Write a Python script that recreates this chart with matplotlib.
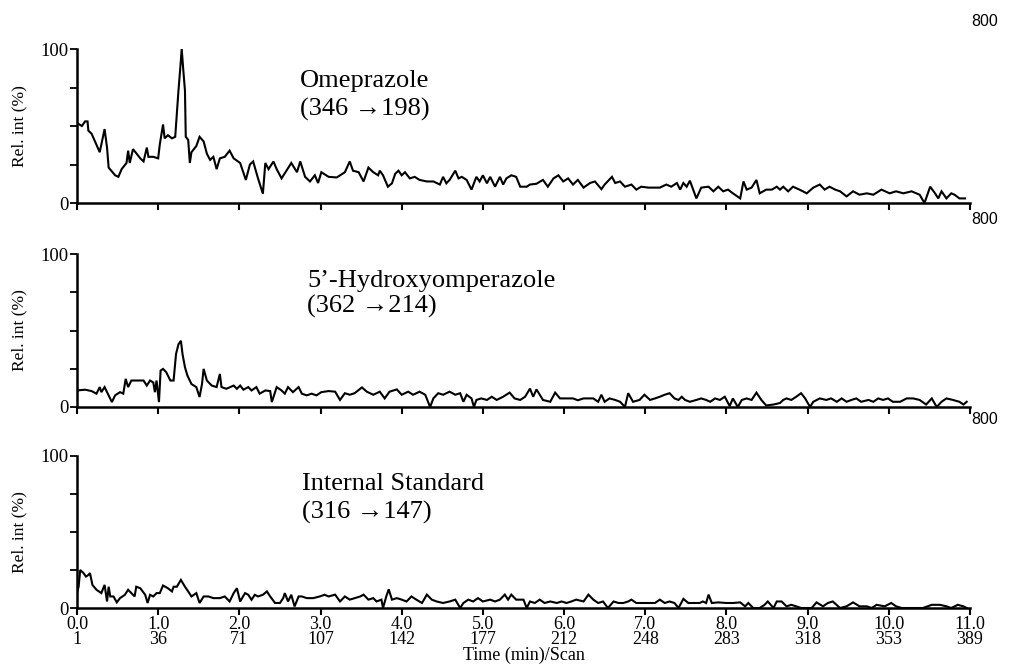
import matplotlib
matplotlib.use("Agg")
import matplotlib.pyplot as plt

serif = ["Liberation Serif", "DejaVu Serif"]

# Omeprazole trace (time in min, relative intensity in %)
ome_t = [0.00, 0.06, 0.10, 0.13, 0.14, 0.18, 0.28, 0.34, 0.37, 0.39, 0.47, 0.51, 0.55, 0.61, 0.63, 0.65,
         0.69, 0.78, 0.82, 0.86, 0.88, 0.94, 1.00, 1.02, 1.06, 1.08, 1.12, 1.17, 1.21, 1.25, 1.27, 1.29,
         1.31, 1.33, 1.34, 1.37, 1.39, 1.41, 1.47, 1.51, 1.56, 1.60, 1.64, 1.68, 1.72, 1.76, 1.82, 1.88,
         1.93, 2.01, 2.08, 2.13, 2.17, 2.23, 2.29, 2.32, 2.36, 2.42, 2.46, 2.52, 2.58, 2.64, 2.71, 2.75,
         2.81, 2.87, 2.93, 2.97, 3.01, 3.10,
         3.20, 3.30, 3.36, 3.40, 3.47, 3.53, 3.59, 3.65, 3.71, 3.73, 3.77, 3.83, 3.88, 3.92, 3.96, 4.00,
         4.04, 4.10, 4.16, 4.22, 4.31, 4.39, 4.47, 4.51, 4.55, 4.59, 4.66, 4.70, 4.74, 4.80, 4.86, 4.92,
         4.96, 5.00, 5.05, 5.09, 5.15, 5.21, 5.25, 5.29, 5.35, 5.41, 5.46, 5.54, 5.58, 5.66, 5.74, 5.80,
         5.87, 5.93, 5.99, 6.05, 6.11, 6.17, 6.24, 6.32, 6.38, 6.46, 6.50, 6.59, 6.63, 6.69, 6.75, 6.83,
         6.89, 6.95, 7.04, 7.12,
         7.18, 7.26, 7.32, 7.39, 7.43, 7.47, 7.51, 7.55, 7.59, 7.63, 7.69, 7.78, 7.84, 7.90, 7.96, 8.02,
         8.08, 8.17, 8.21, 8.25, 8.31, 8.37, 8.41, 8.49, 8.56, 8.62, 8.66, 8.70, 8.76, 8.82, 8.90, 8.99,
         9.07, 9.15, 9.21, 9.27, 9.34, 9.40, 9.48, 9.56, 9.64, 9.73, 9.81, 9.91, 10.01, 10.09, 10.18, 10.28,
         10.38, 10.44, 10.51, 10.57, 10.61, 10.65, 10.71, 10.77, 10.81, 10.87, 10.94]
ome_v = [52, 50, 53, 53, 47, 45, 33, 48, 36, 23, 18, 17, 22, 26, 34, 26,
         35, 29, 27, 36, 30, 30, 29, 38, 51, 42, 44, 42, 43, 73, 86, 100,
         86, 73, 43, 41, 26, 33, 37, 43, 40, 32, 28, 30, 22, 29, 30, 34,
         29, 26, 15, 25, 27, 16, 6, 26, 22, 27, 22, 16, 21, 26, 20, 27,
         17, 14, 18, 13, 20, 17,
         16.6, 20, 27, 21, 20, 14, 23, 20, 18, 21, 18, 10.6, 12.8, 19, 21, 18,
         20, 16, 17, 15, 14, 14, 12, 17, 12.8, 15, 21, 16, 17, 15, 8.7, 17,
         14, 18, 12.8, 17, 10.6, 17, 12, 16, 18, 17, 10.6, 10.6, 12, 12.5, 15, 10.6,
         16, 18, 14, 16, 12, 15, 10, 13, 14, 9, 12, 17, 13, 14, 10.6, 12,
         8.7, 10.6, 10, 10,
         10, 12, 10.6, 13, 8.7, 13, 10.6, 14.5, 8.7, 3, 10, 10.6, 7.6, 10.6, 7.6, 8.7,
         6.3, 3, 14, 8.7, 10, 15, 6.3, 8.7, 8.7, 10.6, 8.7, 10.6, 7.6, 10.6, 8.7, 6.3,
         10, 12, 8.7, 10.6, 8.7, 7.6, 4.3, 7.6, 5.4, 6.3, 5.4, 8.7, 6.3, 7.6, 6.3, 7.6,
         5.4, 0, 10.6, 6.3, 3, 7.6, 3, 6.3, 5.4, 3, 3]

# 5'-Hydroxyomeprazole trace
hyd_t = [0.00, 0.10, 0.18, 0.24, 0.28, 0.30, 0.34, 0.39, 0.43, 0.47, 0.53, 0.57, 0.60, 0.63, 0.67, 0.73,
         0.82, 0.86, 0.90, 0.94, 0.96, 0.98, 1.01, 1.03, 1.06, 1.10, 1.15, 1.19, 1.22, 1.25, 1.28, 1.30,
         1.33, 1.36, 1.41, 1.47, 1.51, 1.54, 1.56, 1.60, 1.66, 1.72, 1.76, 1.78, 1.84, 1.93, 1.97, 2.01,
         2.05, 2.11, 2.15, 2.21, 2.25, 2.32, 2.38, 2.40, 2.46, 2.52, 2.56, 2.60, 2.66, 2.73, 2.77, 2.83,
         2.89, 2.95, 3.01, 3.10,
         3.18, 3.24, 3.30, 3.36, 3.42, 3.51, 3.57, 3.65, 3.73, 3.79, 3.85, 3.94, 4.00, 4.08, 4.14, 4.22,
         4.29, 4.35, 4.39, 4.45, 4.51, 4.59, 4.66, 4.72, 4.76, 4.80, 4.86, 4.89, 4.92, 4.98, 5.05, 5.11,
         5.17, 5.25, 5.33, 5.39, 5.46, 5.52, 5.58, 5.62, 5.66, 5.74, 5.83, 5.89, 5.95, 6.03, 6.11, 6.17,
         6.24, 6.36, 6.42, 6.46, 6.50, 6.56, 6.63, 6.69, 6.75, 6.79, 6.85, 6.93, 6.99, 7.06, 7.12,
         7.18, 7.24, 7.30, 7.36, 7.41, 7.45, 7.49, 7.55, 7.63, 7.69, 7.75, 7.80, 7.86, 7.92, 7.98, 8.04,
         8.08, 8.14, 8.19, 8.25, 8.31, 8.37, 8.43, 8.49, 8.58, 8.66, 8.70, 8.74, 8.80, 8.86, 8.92, 8.97,
         9.03, 9.07, 9.15, 9.23, 9.29, 9.36, 9.42, 9.48, 9.54, 9.60, 9.66, 9.75, 9.81, 9.87, 9.93, 9.99,
         10.05, 10.14, 10.22, 10.30, 10.38, 10.46, 10.53, 10.59, 10.65, 10.71, 10.79, 10.87, 10.92, 10.96]
hyd_v = [10.8, 11.3, 10.4, 8.7, 13, 9.7, 13, 7.6, 3.2, 7.6, 9.7, 8.7, 18.4, 13, 17.3, 17.3,
         17.3, 14, 17.3, 16, 9.7, 17.3, 3.2, 23.8, 24.9, 22.7, 17.3, 17.3, 34.6, 41, 43.3, 34.6,
         26, 20.6, 15, 13, 6.5, 15, 24.9, 17.3, 14, 13, 21.6, 13, 11.9, 14, 11.9, 14,
         11.3, 13, 10.8, 13, 8.7, 10.8, 10.4, 3.2, 13, 10.8, 8.7, 13, 9.7, 13, 8.7, 7.6,
         8.7, 7.6, 9.7, 10.4,
         10, 4.6, 9, 8, 9, 12.8, 10, 8, 10, 5.6, 10, 11.5, 8, 10, 8, 10,
         8, 0, 5.6, 9, 8, 10, 8, 9, 3.4, 8, 5.6, 0, 4.6, 5.6, 4.6, 6.7,
         4.6, 6.7, 9.4, 5.6, 4.6, 6.7, 12, 6.7, 11.5, 4.6, 3.4, 9.4, 5.6, 5.6, 5.6, 4.4,
         5.6, 5.6, 3.4, 8, 3.4, 5.6, 4.6, 3.4, 0, 9, 3.4, 4.6, 8, 4.6, 5.6,
         6.7, 8, 9, 5.6, 4.6, 6.7, 4.6, 3.4, 4.6, 5.6, 4.6, 3.4, 5.6, 4.6, 6.7, 0.6,
         5.6, 0, 4.6, 5.6, 4.6, 9.4, 4.6, 1, 1.6, 2.6, 4.6, 5.6, 4.6, 6.7, 9, 5.6,
         0, 3.4, 5.6, 4.6, 5.6, 3.4, 5.6, 3.4, 4.6, 5.6, 3.4, 4.6, 3.4, 5.6, 4.6, 5.6,
         3.4, 3.4, 5.6, 5.6, 4.6, 1.6, 5.6, 0, 3.4, 5.6, 4.6, 3.4, 1.6, 3.4]

# Internal standard trace
is_t = [0.00, 0.02, 0.04, 0.08, 0.11, 0.14, 0.16, 0.19, 0.24, 0.30, 0.34, 0.37, 0.39, 0.41, 0.45, 0.49,
        0.53, 0.59, 0.63, 0.67, 0.71, 0.73, 0.78, 0.84, 0.87, 0.90, 0.94, 0.98, 1.02, 1.06, 1.12, 1.17,
        1.19, 1.23, 1.28, 1.33, 1.37, 1.41, 1.47, 1.51, 1.56, 1.62, 1.68, 1.76, 1.82, 1.88, 1.93, 1.97,
        2.01, 2.07, 2.11, 2.15, 2.19, 2.23, 2.29, 2.34, 2.38, 2.44, 2.50, 2.54, 2.56, 2.60, 2.64, 2.68,
        2.73, 2.77, 2.83, 2.91, 2.99, 3.05, 3.10,
        3.18, 3.24, 3.30, 3.36, 3.42, 3.49, 3.53, 3.59, 3.65, 3.69, 3.75, 3.77, 3.81, 3.84, 3.88, 3.94,
        4.00, 4.06, 4.12, 4.18, 4.25, 4.31, 4.37, 4.43, 4.51, 4.59, 4.66, 4.72, 4.76, 4.82, 4.88, 4.94,
        5.00, 5.09, 5.15, 5.21, 5.27, 5.31, 5.35, 5.41, 5.50, 5.54, 5.58, 5.64, 5.70, 5.76, 5.83, 5.91,
        5.97, 6.03, 6.09, 6.15, 6.24, 6.30, 6.36, 6.42, 6.48, 6.54, 6.61, 6.67, 6.73, 6.79, 6.83, 6.89,
        6.97, 7.06, 7.12,
        7.18, 7.24, 7.30, 7.36, 7.41, 7.47, 7.53, 7.59, 7.67, 7.71, 7.75, 7.78, 7.82, 7.90, 8.00, 8.08,
        8.17, 8.23, 8.27, 8.33, 8.41, 8.47, 8.51, 8.58, 8.62, 8.68, 8.74, 8.80, 8.86, 8.92, 8.99, 9.05,
        9.11, 9.19, 9.25, 9.31, 9.40, 9.48, 9.56, 9.64, 9.73, 9.79, 9.85, 9.95, 10.03, 10.09, 10.16, 10.24,
        10.34, 10.42, 10.53, 10.63, 10.71, 10.77, 10.85, 10.92, 10.96]
is_v = [9.8, 14, 25, 23, 20.7, 21.7, 23, 15.2, 12, 9.8, 15.2, 4.3, 14, 7.6, 7.6, 3.7,
        6.5, 8.7, 12, 9.8, 7.6, 14, 13, 8.7, 3.3, 8.7, 7.6, 9.8, 9.8, 14.8, 13, 10.9,
        14, 14, 18.5, 14, 10.9, 7.6, 9.8, 3.3, 7.6, 7.6, 6.5, 6.5, 7.6, 4.3, 9.8, 13,
        4.3, 9.8, 8.7, 5.4, 8.7, 7.6, 8.7, 10.9, 7.6, 3.3, 3.3, 6.5, 9.8, 4.3, 8.7, 1,
        7.6, 7.6, 6.5, 6.5, 7.6, 8.7, 7.6,
        8.8, 4.3, 7.6, 5.5, 6.5, 7.6, 8.8, 5.5, 6.5, 4.3, 5.5, 0, 7.6, 12.3, 5.5, 6.5,
        5.5, 4.3, 7.6, 5.5, 3.3, 8.8, 5.5, 4.3, 3.3, 4.3, 5.5, 0, 3.3, 5.5, 4.3, 6.5,
        4.3, 5.5, 4.3, 5.5, 8.8, 5.5, 8.8, 5.5, 5.5, 0, 4.3, 3.3, 5.5, 3.3, 4.3, 3.3,
        4.3, 3.3, 4.3, 5.5, 4.3, 8.8, 5.5, 3.3, 4.3, 0, 4.3, 3.3, 3.3, 4.3, 5.5, 3.3,
        3.3, 3.3, 3.3,
        5.5, 3.3, 4.3, 3.3, 0, 6, 3.3, 3.3, 3.3, 4.3, 3.3, 8.8, 3.3, 3.7, 3.3, 3.3,
        3.7, 1.1, 3.3, 0, 0, 2.1, 4.3, 0, 4.3, 4.3, 1.1, 2.1, 1.1, 0, 0, 0,
        3.7, 1.1, 3.3, 4.3, 0, 1.1, 3.7, 1.1, 1.1, 0, 2.1, 1.1, 3.3, 1.1, 0, 0,
        0, 0, 2.1, 2.1, 1.1, 0, 2.1, 1.1, 0]

minutes = list(range(12))
scans = [1, 36, 71, 107, 142, 177, 212, 248, 283, 318, 353, 389]

panels = [
    (ome_t, ome_v, "Omeprazole", "(346 \u2192198)", 0.6947, 0.2316, 0.753, 0.571, 0.250, 22),
    (hyd_t, hyd_v, "5\u2019-Hydroxyomperazole", "(362 \u2192214)", 0.3880, 0.2300, 0.784, 0.614, 0.258, 220),
    (is_t, is_v, "Internal Standard", "(316 \u2192147)", 0.0857, 0.2286, 0.776, 0.590, 0.252, 419),
]

fig = plt.figure(figsize=(10.09, 6.65), dpi=100)

for i, (t, v, name, trans, bottom, height, y1, y2, xl, y800) in enumerate(panels):
    ax = fig.add_axes([0.0763, bottom, 0.885, height])
    ax.plot(t, v, color="black", lw=1.5, solid_joinstyle="miter")
    ax.set_xlim(0, 11)
    ax.set_ylim(0, 100)
    for s in ["top", "right"]:
        ax.spines[s].set_visible(False)
    for s in ["left", "bottom"]:
        ax.spines[s].set_linewidth(1.8)
    ax.set_yticks([0, 25, 50, 75, 100])
    ax.set_yticklabels(["0", "", "", "", "100"], family=serif, fontsize=13.5)
    ax.tick_params(axis="y", direction="out", length=5, width=1.3, pad=1)
    ax.set_xticks(minutes)
    ax.tick_params(axis="x", direction="out", length=5, width=1.5, pad=1)
    if i == 2:
        ax.set_xticklabels([f"{m:.1f}\n{s}" for m, s in zip(minutes, scans)],
                           family=serif, fontsize=13, linespacing=0.8)
        ax.set_xlabel("Time (min)/Scan", family=serif, fontsize=13, labelpad=-1)
    else:
        ax.set_xticklabels([])
    ax.set_ylabel("Rel. int (%)", family=serif, fontsize=12.5)
    ax.yaxis.set_label_coords(-0.056, 0.5)
    ax.text(xl, y1, name, transform=ax.transAxes, family=serif, fontsize=19, va="baseline")
    ax.text(xl, y2, trans, transform=ax.transAxes, family=serif, fontsize=19, va="baseline")
    fig.text(985 / 1009, 1 - y800 / 665, "800", family=["Liberation Sans", "DejaVu Sans"],
             fontsize=11.5, ha="center", va="center")

fig.savefig("out.png", dpi=100)
